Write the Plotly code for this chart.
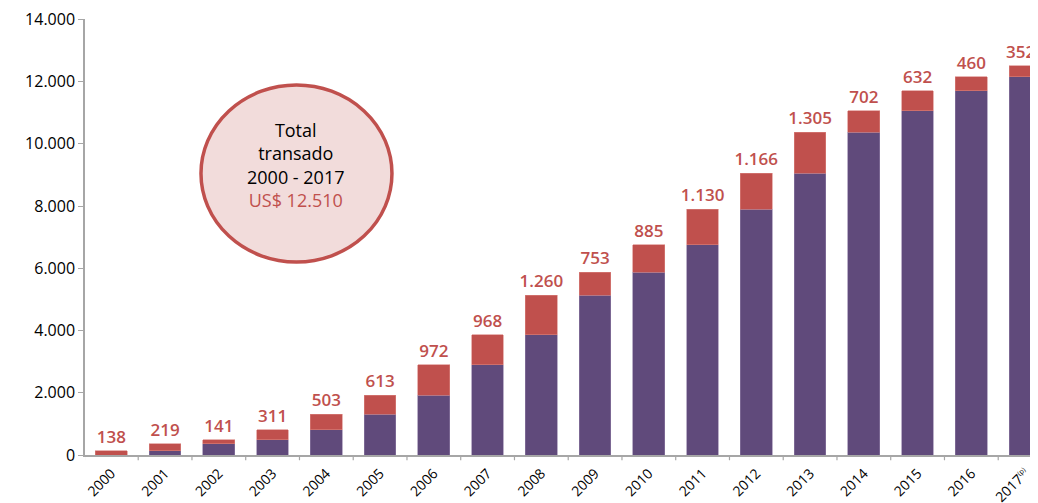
import plotly.graph_objects as go

years = [str(y) for y in range(2000, 2017)] + ["2017<sup><span style='font-size:7px'>(p)</span></sup>"]
increment = [138, 219, 141, 311, 503, 613, 972, 968, 1260, 753, 885, 1130, 1166, 1305, 702, 632, 460, 352]
previous_total = [0, 138, 357, 498, 809, 1312, 1925, 2897, 3865, 5125, 5878, 6763, 7893, 9059, 10364, 11066, 11698, 12158]
y_ticks = [0, 2000, 4000, 6000, 8000, 10000, 12000, 14000]

PURPLE = "#604A7B"
RED = "#C0504D"
FONT = "Open Sans"

x = list(range(len(years)))
labels = [f"{v:,}".replace(",", ".") for v in increment]
bar_text = labels[:-1] + [""]  # last label drawn as annotation so it stays inside the window

fig = go.Figure()
fig.add_trace(go.Bar(x=x, y=previous_total, marker=dict(color=PURPLE, line=dict(color="#8E7CA3", width=0.6)),
                     hoverinfo="skip"))
fig.add_trace(go.Bar(x=x, y=increment, marker=dict(color=RED, line=dict(color="#D9827F", width=0.6)),
                     text=bar_text, texttemplate="%{text}", textposition="outside", cliponaxis=False,
                     constraintext="none",
                     textfont=dict(color=RED, size=17, family=FONT, weight=600), hoverinfo="skip"))

fig.add_annotation(x=x[-1], y=previous_total[-1] + increment[-1], xref="x", yref="y",
                   text=labels[-1], showarrow=False, xanchor="right", yanchor="bottom", xshift=12, yshift=1,
                   font=dict(color=RED, size=17, family=FONT, weight=600))

fig.update_layout(
    barmode="stack", bargap=0.41,
    width=1030, height=495,
    margin=dict(l=77, r=0, t=11, b=48, autoexpand=False),
    plot_bgcolor="white", paper_bgcolor="white",
    showlegend=False,
    separators=",.",
    font=dict(family=FONT, color="black"),
    xaxis=dict(
        range=[-0.49, 17.24], automargin=False,
        tickmode="array", tickvals=x, ticktext=years,
        tickangle=-45, tickfont=dict(size=14), ticklabelstandoff=3,
        showline=True, linecolor="#A6A6A6", linewidth=1.5,
        ticks="", showgrid=False, zeroline=False,
    ),
    yaxis=dict(
        range=[0, 14008], tickvals=y_ticks, tickformat=",", automargin=False,
        tickfont=dict(size=16), ticklabeloverflow="allow",
        showline=True, linecolor="#A6A6A6", linewidth=1.5,
        ticks="outside", ticklen=5, tickcolor="#A6A6A6",
        showgrid=False, zeroline=False,
    ),
)

# tick marks at category boundaries on x axis
for i in range(len(years) + 1):
    fig.add_shape(type="line", xref="x", yref="paper", x0=i - 0.5, x1=i - 0.5, y0=0, y1=-0.012,
                  line=dict(color="#A6A6A6", width=1.2))

fig.add_shape(type="circle", xref="paper", yref="paper",
              x0=0.1217, x1=0.3221, y0=0.4427, y1=0.8486,
              fillcolor="#F2DCDB", line=dict(color=RED, width=3.5), layer="above")
fig.add_annotation(xref="paper", yref="paper", x=0.2204, y=0.665, xanchor="center", yanchor="middle",
                   showarrow=False,
                   text="Total<br>transado<br>2000 - 2017<br><span style='color:#C0504D'>US$ 12.510</span>",
                   font=dict(size=18, color="black", family=FONT, weight=500), align="center")

fig.write_html("out.html")
